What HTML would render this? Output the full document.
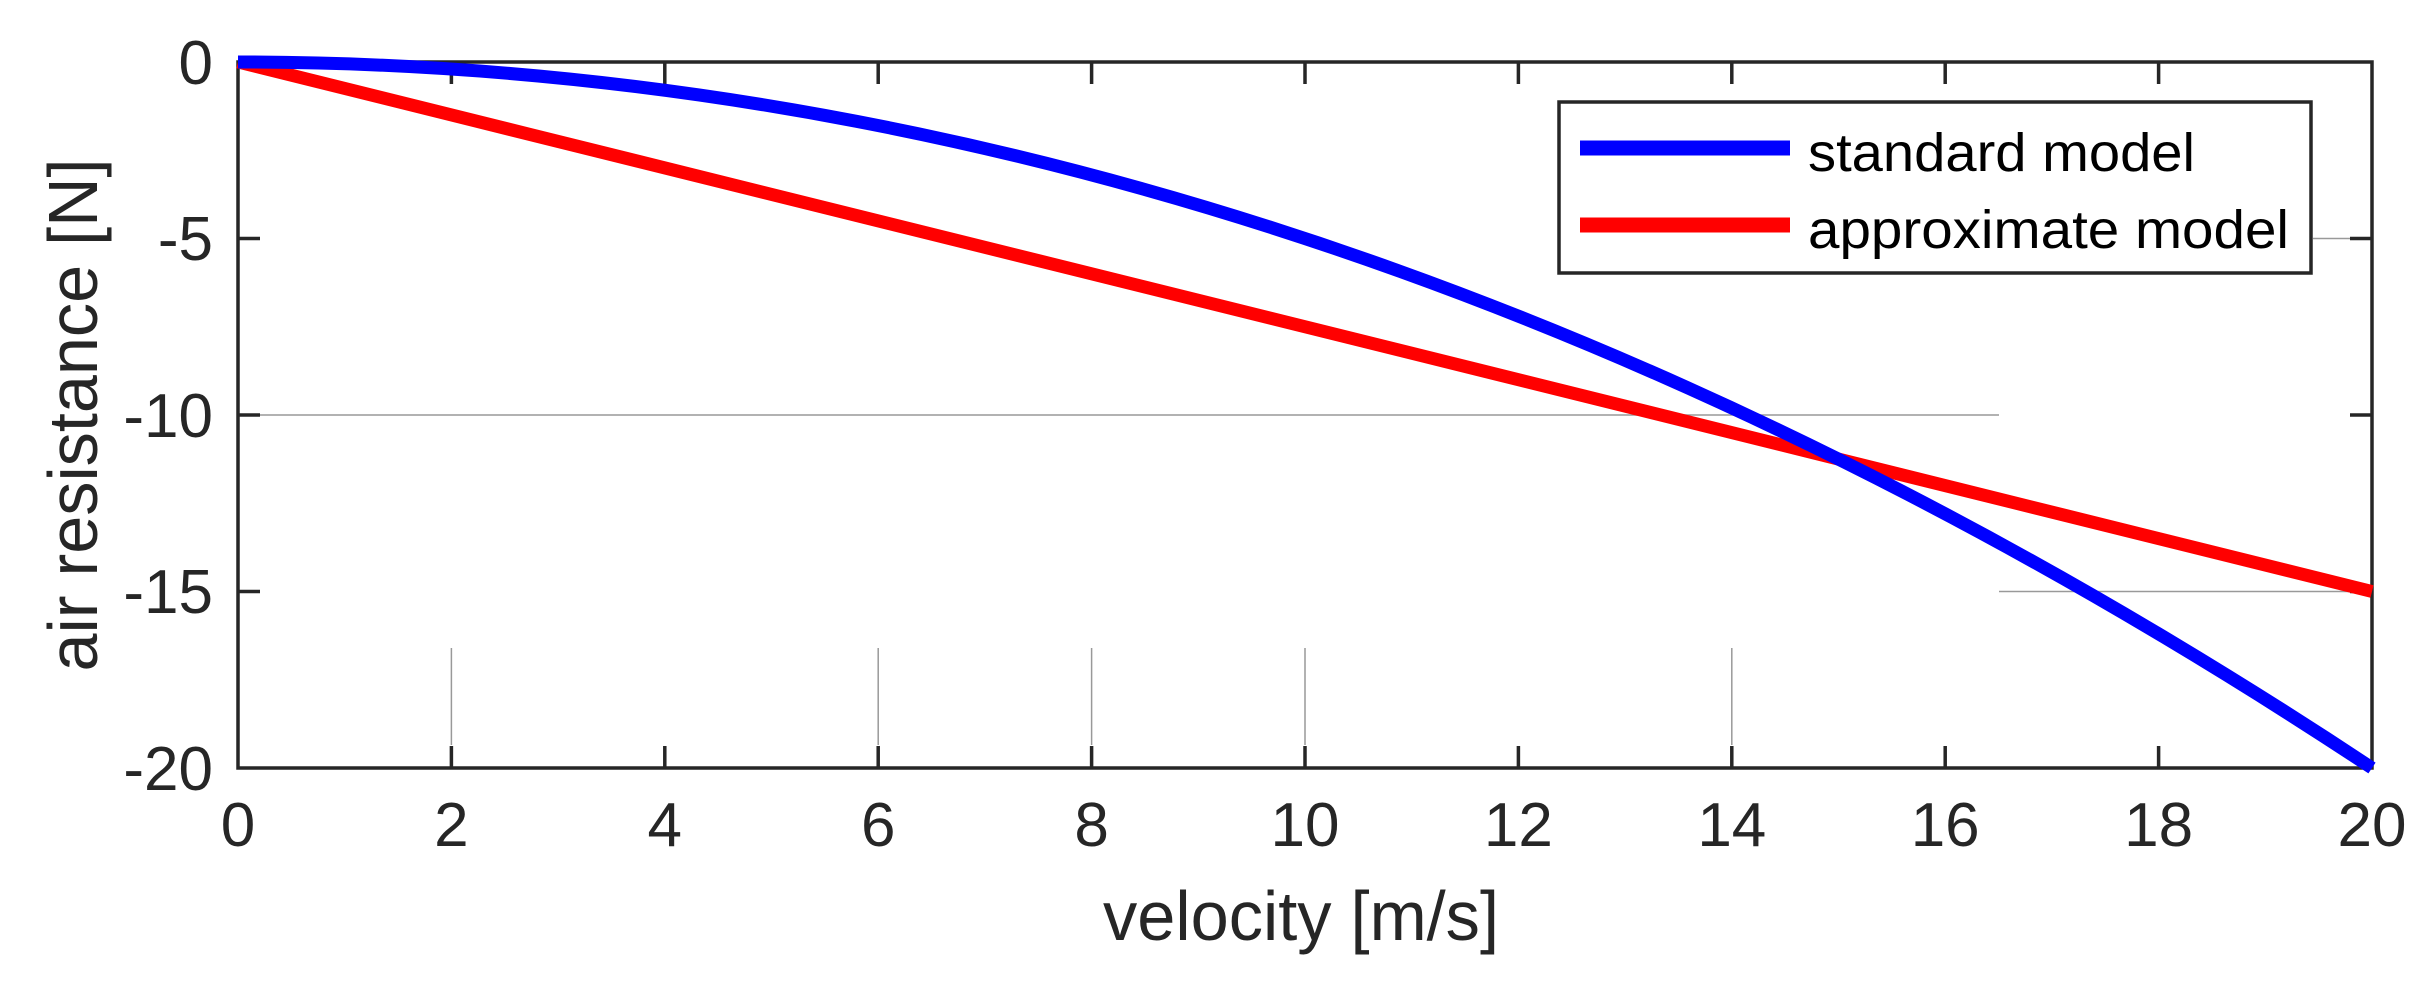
<!DOCTYPE html>
<html><head><meta charset="utf-8"><style>html,body{margin:0;padding:0;background:#fff}svg{display:block}</style></head>
<body>
<svg width="2426" height="993" viewBox="0 0 2426 993" xmlns="http://www.w3.org/2000/svg" font-family="Liberation Sans, Arial, sans-serif">
<rect width="2426" height="993" fill="#fff"/>
<g stroke="#999" stroke-width="1.5">
<line x1="260" y1="415" x2="1999" y2="415"/>
<line x1="1999" y1="591.5" x2="2350" y2="591.5"/>
<line x1="2313" y1="238.5" x2="2350" y2="238.5"/>
<line x1="451.4" y1="648" x2="451.4" y2="745"/>
<line x1="878.2" y1="648" x2="878.2" y2="745"/>
<line x1="1091.6" y1="648" x2="1091.6" y2="745"/>
<line x1="1305" y1="648" x2="1305" y2="745"/>
<line x1="1731.8" y1="648" x2="1731.8" y2="745"/>
</g>
<rect x="238" y="62" width="2134" height="706" fill="none" stroke="#262626" stroke-width="3.5"/>
<g stroke="#262626" stroke-width="3.5">
<path d="M451.4 768v-22M664.8 768v-22M878.2 768v-22M1091.6 768v-22M1305 768v-22M1518.4 768v-22M1731.8 768v-22M1945.2 768v-22M2158.6 768v-22
M451.4 62v22M664.8 62v22M878.2 62v22M1091.6 62v22M1305 62v22M1518.4 62v22M1731.8 62v22M1945.2 62v22M2158.6 62v22
M238 238.5h22M238 415h22M238 591.5h22M2372 238.5h-22M2372 415h-22M2372 591.5h-22"/>
</g>
<path d="M238 62 L2372 591.5" stroke="#ff0000" stroke-width="13" fill="none"/>
<path d="M238,62 Q1305,62 2372,768" stroke="#0000ff" stroke-width="13" fill="none"/>
<g fill="#262626" font-size="62" text-anchor="middle">
<text x="238" y="846">0</text>
<text x="451.4" y="846">2</text>
<text x="664.8" y="846">4</text>
<text x="878.2" y="846">6</text>
<text x="1091.6" y="846">8</text>
<text x="1305" y="846">10</text>
<text x="1518.4" y="846">12</text>
<text x="1731.8" y="846">14</text>
<text x="1945.2" y="846">16</text>
<text x="2158.6" y="846">18</text>
<text x="2372" y="846">20</text>
</g>
<g fill="#262626" font-size="62" text-anchor="end">
<text x="213" y="84">0</text>
<text x="213" y="260">-5</text>
<text x="213" y="437">-10</text>
<text x="213" y="613">-15</text>
<text x="213" y="790">-20</text>
</g>
<text x="1301" y="940" fill="#262626" font-size="70" text-anchor="middle" textLength="396" lengthAdjust="spacingAndGlyphs">velocity [m/s]</text>
<text transform="translate(97,415) rotate(-90)" fill="#262626" font-size="70" text-anchor="middle" textLength="513" lengthAdjust="spacingAndGlyphs">air resistance [N]</text>
<rect x="1559" y="102" width="752" height="171" fill="#fff" stroke="#262626" stroke-width="3.5"/>
<line x1="1580" y1="148" x2="1790" y2="148" stroke="#0000ff" stroke-width="15"/>
<line x1="1580" y1="225" x2="1790" y2="225" stroke="#ff0000" stroke-width="15"/>
<text x="1808" y="171" font-size="54" fill="#000" textLength="387" lengthAdjust="spacingAndGlyphs">standard model</text>
<text x="1808" y="248" font-size="54" fill="#000" textLength="481" lengthAdjust="spacingAndGlyphs">approximate model</text>
</svg>
</body></html>
